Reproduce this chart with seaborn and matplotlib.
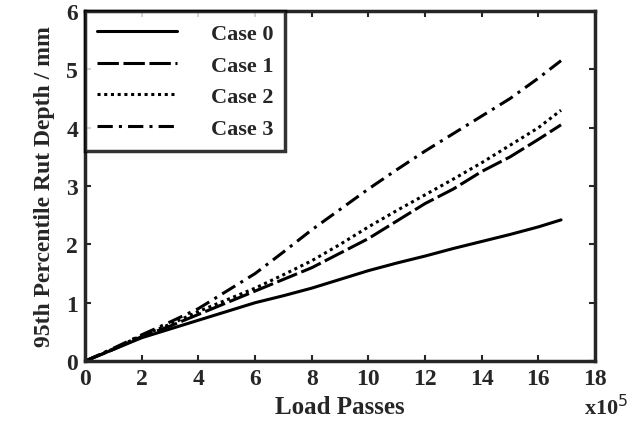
import numpy as np
import pandas as pd
import seaborn as sns
import matplotlib.pyplot as plt

# Lastwechsel in 1e5
passes = [0, 1, 2, 3, 4, 5, 6, 7, 8, 9, 10, 11, 12, 13, 14, 15, 16, 16.8]
case0 = [0, 0.2, 0.4, 0.55, 0.7, 0.85, 1.0, 1.12, 1.25, 1.4, 1.55, 1.68, 1.8, 1.93, 2.05, 2.17, 2.3, 2.42]
case1 = [0, 0.2, 0.42, 0.6, 0.8, 1.0, 1.2, 1.4, 1.6, 1.85, 2.1, 2.4, 2.7, 2.95, 3.25, 3.5, 3.8, 4.05]
case2 = [0, 0.21, 0.44, 0.63, 0.85, 1.05, 1.25, 1.48, 1.72, 2.0, 2.3, 2.58, 2.85, 3.12, 3.4, 3.7, 4.0, 4.3]
case3 = [0, 0.22, 0.45, 0.67, 0.9, 1.2, 1.5, 1.87, 2.25, 2.6, 2.95, 3.28, 3.6, 3.9, 4.2, 4.5, 4.85, 5.15]
labels = ["Case 0", "Case 1", "Case 2", "Case 3"]

sns.set_style("ticks")
plt.rcParams["font.family"] = ["Liberation Serif", "DejaVu Serif"]

fig = plt.figure(figsize=(6.31, 4.31), dpi=100)
ax = fig.add_axes([0.135, 0.16, 0.808, 0.812])

styles = ["-", (0, (7, 1.5)), (0, (1, 1.2)), (0, (5, 2, 1, 2))]
for vals, lab, ls in zip([case0, case1, case2, case3], labels, styles):
    df = pd.DataFrame({"x": passes, "y": vals})
    sns.lineplot(data=df, x="x", y="y", ax=ax, color="black", linewidth=2.2, linestyle=ls, label=lab)

ax.set_xlim(0, 18)
ax.set_ylim(0, 6)
ax.set_xticks(range(0, 19, 2))
ax.set_yticks(range(0, 7))
ax.tick_params(direction="in", top=True, right=True, length=4, width=1.5, labelsize=17, pad=5)
for s in ax.spines.values():
    s.set_linewidth(2.5)
    s.set_visible(True)
for t in ax.get_xticklabels() + ax.get_yticklabels():
    t.set_fontweight("bold")

ax.set_xlabel("Load Passes", fontsize=18, fontweight="bold", labelpad=4)
ax.set_ylabel("95th Percentile Rut Depth / mm", fontsize=17, fontweight="bold", labelpad=8)
fig.text(0.995, 0.037, "x10$^{5}$", fontsize=16, fontweight="bold", ha="right", va="baseline")

leg = ax.legend(loc="upper left", borderaxespad=0, handlelength=3.6, handletextpad=1.5,
                frameon=True, fancybox=False, edgecolor="black", borderpad=0.55,
                labelspacing=0.5, prop={"weight": "bold", "size": 16})
leg.get_frame().set_linewidth(2.5)

plt.savefig("out.png", dpi=100)
